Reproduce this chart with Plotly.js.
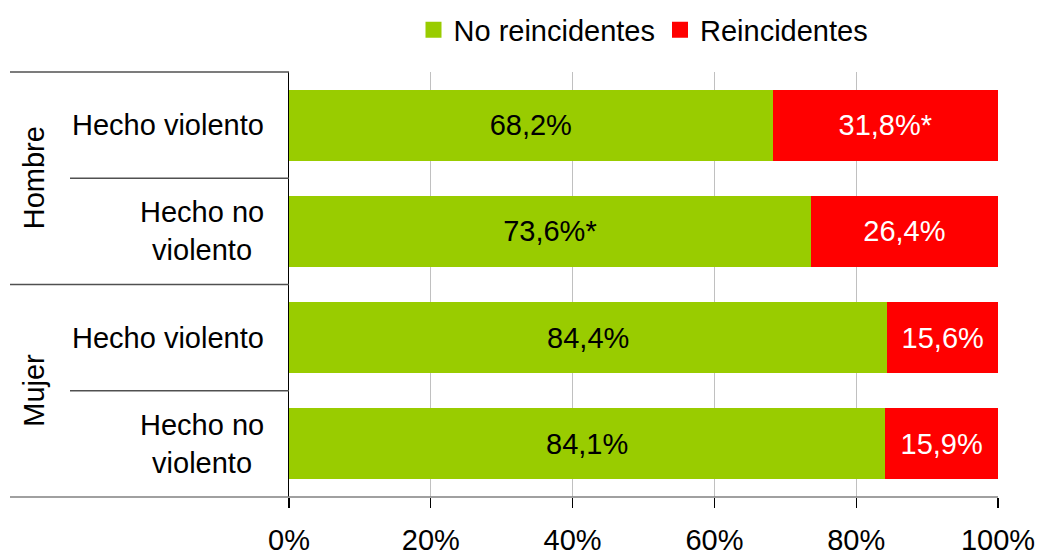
<!DOCTYPE html>
<html>
<head>
<meta charset="utf-8">
<script src="https://cdn.plot.ly/plotly-3.0.1.min.js"></script>
<style>
  html, body { margin: 0; padding: 0; background: #fff; }
  #chart { width: 1039px; height: 555px; }
</style>
</head>
<body>
<div id="chart"></div>
<script>
// ---- data ----
var groups = ['Hombre', 'Mujer'];
var categories = ['Hecho violento', 'Hecho no<br>violento', 'Hecho violento', 'Hecho no<br>violento'];
var categoryGroup = [0, 0, 1, 1];
var seriesNames = ['No reincidentes', 'Reincidentes'];
var noReincidentes = [68.2, 73.6, 84.4, 84.1];
var reincidentes = [31.8, 26.4, 15.6, 15.9];
var noReincLabels = ['68,2%', '73,6%*', '84,4%', '84,1%'];
var reincLabels = ['31,8%*', '26,4%', '15,6%', '15,9%'];
var xTickVals = [0, 20, 40, 60, 80, 100];
var xTickText = xTickVals.map(function (v) { return v + '%'; });

// ---- styling ----
var FONT = 'Liberation Sans, Arial, sans-serif';
var FS = 29;
var GREEN = '#99CC00';
var RED = '#FF0000';
var seriesColors = [GREEN, RED];

var yIdx = categories.map(function (_, i) { return i; });

var traces = [
  {
    type: 'bar', orientation: 'h', name: seriesNames[0], showlegend: false,
    y: yIdx, x: noReincidentes, text: noReincLabels,
    texttemplate: '%{text}', textposition: 'inside', insidetextanchor: 'middle',
    textfont: { family: FONT, size: FS, color: '#000000' },
    constraintext: 'none',
    marker: { color: GREEN, line: { width: 0 } },
    hoverinfo: 'skip'
  },
  {
    type: 'bar', orientation: 'h', name: seriesNames[1], showlegend: false,
    y: yIdx, x: reincidentes, text: reincLabels,
    texttemplate: '%{text}', textposition: 'inside', insidetextanchor: 'middle',
    textfont: { family: FONT, size: FS, color: '#FFFFFF' },
    constraintext: 'none',
    marker: { color: RED, line: { width: 0 } },
    hoverinfo: 'skip'
  }
];
// legend entries (larger square swatches)
seriesNames.forEach(function (nm, i) {
  traces.push({
    type: 'scatter', mode: 'markers', name: nm, x: [null], y: [null],
    marker: { symbol: 'square', size: 16, color: seriesColors[i], line: { width: 0 } },
    hoverinfo: 'skip'
  });
});

// geometry helpers (paper coords)
var plotL = 289, plotR = 998;
var pw = plotR - plotL;
function px2paperX(px) { return (px - plotL) / pw; }

var n = categories.length;
var annotations = [];
categories.forEach(function (c, i) {
  annotations.push({
    xref: 'paper', yref: 'y', x: px2paperX(266), y: i,
    text: c, showarrow: false, xanchor: 'right', yanchor: 'middle', align: 'center',
    font: { family: FONT, size: FS, color: '#000' }
  });
});
groups.forEach(function (g, gi) {
  var members = yIdx.filter(function (i) { return categoryGroup[i] === gi; });
  var mid = (members[0] + members[members.length - 1]) / 2;
  annotations.push({
    xref: 'paper', yref: 'y', x: px2paperX(34), y: mid,
    text: g, showarrow: false, textangle: -90, xanchor: 'center', yanchor: 'middle',
    font: { family: FONT, size: FS, color: '#000' }
  });
});

var shapes = [];
for (var k = 0; k <= n; k++) {
  var isGroupEdge = (k === 0 || k === n || categoryGroup[k] !== categoryGroup[k - 1]);
  var yPaper = 1 - k / n;
  shapes.push({
    type: 'line', xref: 'paper', yref: 'paper',
    x0: px2paperX(isGroupEdge ? 10 : 70), x1: k === n ? 1 : 0,
    y0: yPaper, y1: yPaper,
    line: { color: k === n ? '#808080' : '#505050', width: 1.3 }
  });
}

var layout = {
  width: 1039, height: 555,
  margin: { l: plotL, r: 1039 - plotR, t: 72, b: 58, pad: 0 },
  paper_bgcolor: '#ffffff', plot_bgcolor: '#ffffff',
  barmode: 'stack', bargap: 0.33,
  font: { family: FONT, size: FS, color: '#000' },
  showlegend: true,
  legend: {
    orientation: 'h', x: 0.5, xanchor: 'center',
    yref: 'container', y: 1 - 30 / 555, yanchor: 'middle',
    font: { family: FONT, size: FS, color: '#000' },
    traceorder: 'normal', itemclick: false, itemdoubleclick: false,
    itemwidth: 30, tracegroupgap: 0,
    bgcolor: 'rgba(0,0,0,0)', borderwidth: 0
  },
  xaxis: {
    range: [0, 100], tickmode: 'array', tickvals: xTickVals, ticktext: xTickText,
    showgrid: true, gridcolor: '#c0c0c0', gridwidth: 1,
    zeroline: false, showline: false,
    ticks: 'outside', ticklen: 10, tickcolor: '#000', tickwidth: 1.3,
    ticklabelstandoff: 7,
    tickfont: { family: FONT, size: FS, color: '#000' },
    fixedrange: true
  },
  yaxis: {
    range: [n - 0.5, -0.5], showticklabels: false, ticks: '',
    showgrid: false, zeroline: false,
    showline: true, linecolor: '#000', linewidth: 1.5,
    fixedrange: true
  },
  annotations: annotations,
  shapes: shapes
};

Plotly.newPlot('chart', traces, layout, { displayModeBar: false, staticPlot: true });
</script>
</body>
</html>
